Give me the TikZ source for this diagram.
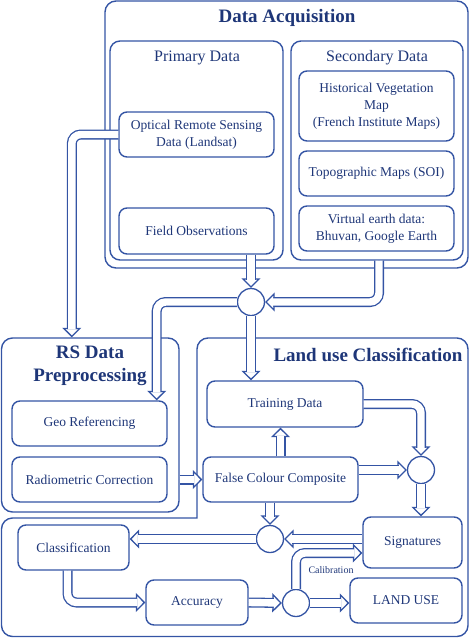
\documentclass[tikz,border=0pt]{standalone}
\usepackage{fontspec}
\setmainfont{Liberation Serif}
\usetikzlibrary{arrows.meta,calc}
\definecolor{lc}{RGB}{52,84,164}
\definecolor{tc}{RGB}{30,54,120}
\tikzset{
  box/.style={draw=lc, line width=1.4pt, rounded corners=8pt, rectangle, inner sep=0pt, align=center, text=tc,
    font=\fontsize{13.5}{17}\selectfont},
  frame/.style={draw=lc, line width=1.4pt, rounded corners=11pt, rectangle, inner sep=0pt},
  ttl/.style={text=tc, font=\bfseries\fontsize{19}{23}\selectfont, align=center, inner sep=0pt},
  sub/.style={text=tc, font=\fontsize{16}{19}\selectfont, inner sep=0pt},
  junc/.style={circle, draw=lc, line width=1.3pt, fill=white, minimum size=27pt, inner sep=0pt},
  flowtip/.style={draw=lc, line width=1.3pt, rounded corners=9pt,
    -{Triangle[open, width=19pt, length=9.5pt, fill=white]}},
  flowouter/.style={draw=lc, line width=10pt, rounded corners=9pt, shorten >=8.1pt},
  flowinner/.style={draw=white, line width=7.4pt, rounded corners=9pt, shorten >=7.9pt},
}
\newcommand\flowline[1]{\draw[flowtip] #1; \draw[flowouter] #1; \draw[flowinner] #1;}
\begin{document}
\begin{tikzpicture}[x=1pt,y=-1pt]
\useasboundingbox (0,0) rectangle (474,638);
% Data acquisition
\node[frame, minimum width=363pt, minimum height=267pt] (da) at (286.5,134.5) {};
\node[ttl] (dat) at (287,18) {Data Acquisition};
\node[frame, rounded corners=10pt, minimum width=173pt, minimum height=219pt] (pd) at (196.5,150.5) {};
\node[sub] (pdt) at (197,58) {Primary Data};
\node[frame, rounded corners=10pt, minimum width=172pt, minimum height=219pt] (sd) at (377,150.5) {};
\node[sub] (sdt) at (377,58) {Secondary Data};
\node[box, minimum width=155pt, minimum height=70pt] (hist) at (376.5,106) {Historical Vegetation\\Map\\(French Institute Maps)};
\node[box, minimum width=155pt, minimum height=45pt] (topo) at (376.5,173.5) {Topographic Maps (SOI)};
\node[box, minimum width=155pt, minimum height=45pt] (virt) at (376.5,228.5) {Virtual earth data:\\Bhuvan, Google Earth};
\node[box, minimum width=155pt, minimum height=45pt] (opt) at (196.5,134.5) {Optical Remote Sensing\\Data (Landsat)};
\node[box, minimum width=155pt, minimum height=46pt] (field) at (196.5,231) {Field Observations};
% RS preprocessing
\node[frame, minimum width=177.5pt, minimum height=174pt] (rs) at (90.25,425) {};
\node[ttl] (rst) at (90,366) {RS Data\\Preprocessing};
\node[box, minimum width=155pt, minimum height=45pt] (geo) at (89.5,423.5) {Geo Referencing};
\node[box, minimum width=155pt, minimum height=45pt] (rad) at (89.5,479.5) {Radiometric Correction};
% Land use classification frame
\draw[draw=lc, line width=1.4pt, line cap=rect] (197,518) [rounded corners=11pt] -- (197,338) -- (468,338) -- (468,636.5) -- (1.5,636.5) -- (1.5,518) [sharp corners] -- (197,518);
\node[ttl] (lut) at (368,355) {Land use Classification};
\node[box, minimum width=156pt, minimum height=46pt] (train) at (285,404) {Training Data};
\node[box, minimum width=155pt, minimum height=45pt] (fcc) at (280.5,479.5) {False Colour Composite};
\node[box, minimum width=99pt, minimum height=51pt] (sig) at (412.5,542.5) {Signatures};
\node[box, minimum width=111pt, minimum height=45pt] (cls) at (73.5,547.5) {Classification};
\node[box, minimum width=102pt, minimum height=45pt] (acc) at (197,602.5) {Accuracy};
\node[box, minimum width=112pt, minimum height=45pt] (land) at (406,600.5) {LAND USE};
% junctions
\node[junc] (c1) at (251,302) {};
\node[junc] (c2) at (421,470) {};
\node[junc] (c3) at (270,539) {};
\node[junc] (c4) at (296,603) {};
% helper coordinates
\coordinate (rsin) at ($(rs.north west)+(71,0)$);
\coordinate (geoin) at ($(geo.north east)+(-11,0)$);
\coordinate (sdout) at ($(sd.south)+(2,0)$);
\coordinate (clsout) at ($(cls.south)+(-6,0)$);
\coordinate (sigcal) at ($(sig.west)+(0,10.5)$);
% connectors
\flowline{(opt.west) -| (rsin)}
\flowline{(c1 |- field.south) -- (c1.north)}
\flowline{(sdout) |- (c1.east)}
\flowline{(c1.west) -| (geoin)}
\flowline{(c1.south) -- (c1 |- train.north)}
\flowline{(rs.east |- rad.east) -- (fcc.west)}
\flowline{(fcc.north) -- (fcc.north |- train.south)}
\flowline{(train.east) -| (c2.north)}
\flowline{(fcc.east |- c2.west) -- (c2.west)}
\flowline{(c2.south) -- (c2 |- sig.north)}
\flowline{(c3 |- fcc.south) -- (c3.north)}
\flowline{(sig.west |- c3.east) -- (c3.east)}
\flowline{(c3.west) -- (c3.west -| cls.east)}
\flowline{(clsout) |- (acc.west)}
\flowline{(acc.east) -- (c4.west)}
\flowline{(c4.east) -- (c4.east -| land.west)}
\flowline{(c4.north) |- (sigcal)}
\node[text=tc, font=\fontsize{10}{12}\selectfont, inner sep=0pt] (calib) at (331,570) {Calibration};
\end{tikzpicture}
\end{document}
